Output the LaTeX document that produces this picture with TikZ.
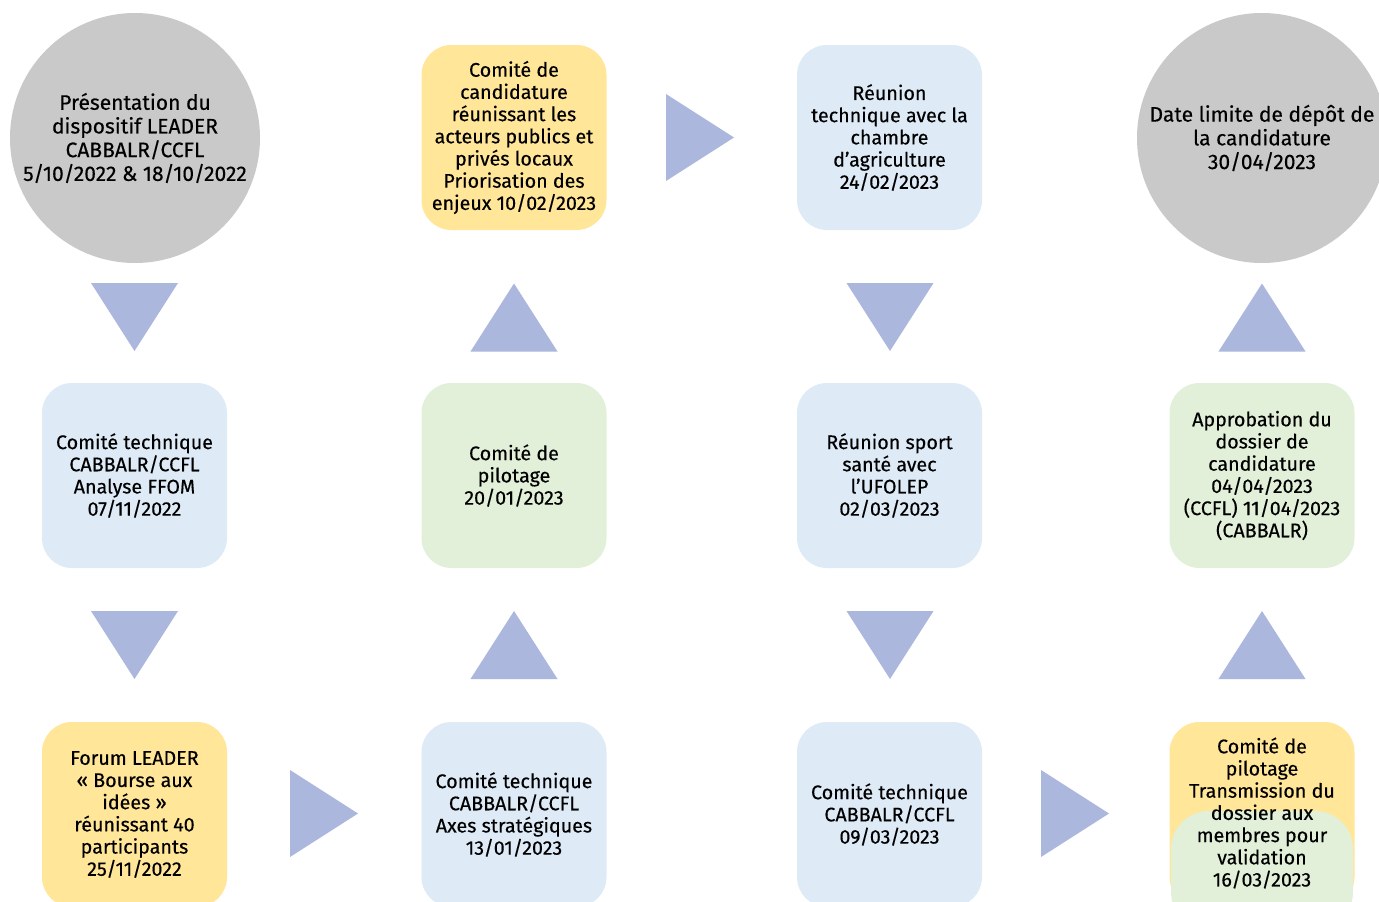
\documentclass[tikz,border=0pt]{standalone}
\usepackage{fontspec}
\setmainfont{Fira Sans}[BoldFont={Fira Sans}, BoldFeatures={FakeBold=0.35}]
\usetikzlibrary{calc}
\definecolor{cgray}{RGB}{201,201,201}
\definecolor{cyellow}{RGB}{255,230,153}
\definecolor{cblue}{RGB}{222,235,247}
\definecolor{cgreen}{RGB}{226,240,217}
\definecolor{ctri}{RGB}{172,183,221}
\tikzset{
  circ/.style={circle,fill=cgray,minimum size=250pt,inner sep=0pt,align=center,font=\fontsize{21}{23.7}\selectfont\bfseries},
  boxbase/.style={rounded corners=30pt,minimum width=185pt,minimum height=185pt,inner sep=0pt,align=center,font=\fontsize{19.7}{22.2}\selectfont\bfseries},
  bluebox/.style={boxbase,fill=cblue},
  yellowbox/.style={boxbase,fill=cyellow},
  greenbox/.style={boxbase,fill=cgreen},
  tri/.style={fill=ctri},
}
\newcommand\tridown[2]{\fill[tri] (#1-43.5,#2-34) -- (#1+43.5,#2-34) -- (#1,#2+34) -- cycle;}
\newcommand\triup[2]{\fill[tri] (#1-43.5,#2+34) -- (#1+43.5,#2+34) -- (#1,#2-34) -- cycle;}
\newcommand\triright[2]{\fill[tri] (#1-34,#2-43.5) -- (#1-34,#2+43.5) -- (#1+34,#2) -- cycle;}
\begin{document}
\begin{tikzpicture}[x=1pt,y=-1pt]
\useasboundingbox (0,0) rectangle (1379,902);
\fill[white] (0,0) rectangle (1379,902);
% circles
\node[circ] (c1) at (135,138) {Présentation du\\dispositif LEADER\\CABBALR/CCFL\\5/10/2022 \& 18/10/2022};
\node[circ] (c2) at (1262,138) {Date limite de dépôt de\\la candidature\\30/04/2023};
% column 1
\node[bluebox] (b12) at (134.5,475.5) {Comité technique\\CABBALR/CCFL\\Analyse FFOM\\07/11/2022};
\node[yellowbox] (b13) at (134.5,814.5) {Forum LEADER\\« Bourse aux\\idées »\\réunissant 40\\participants\\25/11/2022};
% column 2
\node[yellowbox] (b21) at (514,137.5) {Comité de\\candidature\\réunissant les\\acteurs publics et\\privés locaux\\Priorisation des\\enjeux 10/02/2023};
\node[greenbox] (b22) at (514,475.5) {Comité de\\pilotage\\20/01/2023};
\node[bluebox] (b23) at (514,814.5) {Comité technique\\CABBALR/CCFL\\Axes stratégiques\\13/01/2023};
% column 3
\node[bluebox] (b31) at (889.5,137.5) {Réunion\\technique avec la\\chambre\\d’agriculture\\24/02/2023};
\node[bluebox] (b32) at (889.5,475.5) {Réunion sport\\santé avec\\l’UFOLEP\\02/03/2023};
\node[bluebox] (b33) at (889.5,814.5) {Comité technique\\CABBALR/CCFL\\09/03/2023};
% column 4
\node[greenbox] (b42) at (1262,475.5) {Approbation du\\dossier de\\candidature\\04/04/2023\\(CCFL) 11/04/2023\\(CABBALR)};
\node[yellowbox] (b43) at (1262,814.5) {};
\fill[cgreen,rounded corners=38pt] (1171,811) rectangle (1353,930);
\node[boxbase,fill=none] (b43t) at (1262,813) {Comité de\\pilotage\\Transmission du\\dossier aux\\membres pour\\validation\\16/03/2023};
% triangles
\tridown{134.5}{317}
\tridown{134.5}{645}
\triright{324}{813.5}
\triup{514}{317.5}
\triup{514}{645}
\triright{700}{137.5}
\tridown{890}{317}
\tridown{890}{645}
\triright{1075}{813.5}
\triup{1262}{317.5}
\triup{1262}{645}
\end{tikzpicture}
\end{document}
